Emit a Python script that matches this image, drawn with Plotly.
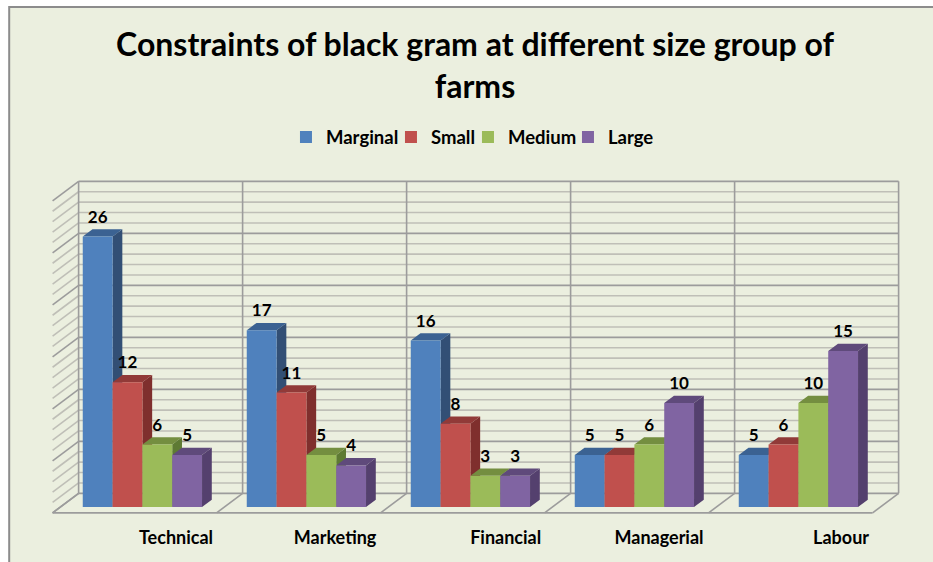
import plotly.graph_objects as go

categories = ["Technical", "Marketing", "Financial", "Managerial", "Labour"]
marginal = [26, 17, 16, 5, 5]
small = [12, 11, 8, 5, 6]
medium = [6, 5, 3, 6, 10]
large = [5, 4, 3, 10, 15]
label_nudge = [0.205, 0.175, 0.215, 0.15, 0.26]

series = [
    ("Marginal", marginal, "#4F81BD", "#3B6292", "#324F75"),
    ("Small", small, "#C0504D", "#913A38", "#7F2F2D"),
    ("Medium", medium, "#9BBB59", "#748E40", "#5E7A33"),
    ("Large", large, "#8064A2", "#5F4A7B", "#54406E"),
]
legend_widths = [60, 32, 55, 40]

# oblique projection of the Excel-style 3D frame, in axis units
BAR_W = 1 / 5.5
DX = 26 / 164
DY = 19.5 / 10.4
FRONT, BACK = 0.3, 0.675
VMAX = 30


def X(c, d):
    return c + (d - FRONT) * DX


def Y(v, d):
    return v + (d - FRONT) * DY


def poly(pts, fill, line=None, layer="below"):
    path = "M" + " L".join(f"{x:.4f},{y:.4f}" for x, y in pts) + " Z"
    return dict(type="path", xref="x", yref="y", path=path, fillcolor=fill,
                line=dict(width=0) if line is None else line, layer=layer)


def seg(p, q, color, width):
    return dict(type="line", xref="x", yref="y", x0=p[0], y0=p[1], x1=q[0], y1=q[1],
                line=dict(color=color, width=width), layer="below")


shapes = []
# chart area background with its thin frame (only left and top edges fall inside the picture)
BG = "#EBEFDF"
shapes.append(dict(type="rect", xref="paper", yref="paper", x0=-0.048, x1=1.2, y0=-0.3, y1=1.506,
                   fillcolor=BG, line=dict(color="#8C8C8C", width=2), layer="below"))

MAJOR, MINOR = "#9C9C9C", "#BFBFB7"
for v in range(0, VMAX + 1):
    col, w = (MAJOR, 1.6) if v % 5 == 0 else (MINOR, 1.6)
    shapes.append(seg((X(-0.5, 1), Y(v, 1)), (X(4.5, 1), Y(v, 1)), col, w))
    shapes.append(seg((X(-0.5, 0), Y(v, 0)), (X(-0.5, 1), Y(v, 1)), col, w))
for i in range(6):
    shapes.append(seg((X(i - 0.5, 1), Y(0, 1)), (X(i - 0.5, 1), Y(VMAX, 1)), MAJOR, 1.6))
    shapes.append(seg((X(i - 0.5, 0), Y(0, 0)), (X(i - 0.5, 1), Y(0, 1)), MAJOR, 1.6))
shapes.append(seg((X(-0.5, 0), Y(0, 0)), (X(4.5, 0), Y(0, 0)), MAJOR, 1.6))

# depth faces of each bar, painted left to right
for i in range(len(categories)):
    for j, (_, vals, _, top, side) in enumerate(series):
        x0 = i - 2 * BAR_W + j * BAR_W
        x1 = x0 + BAR_W
        v = vals[i]
        shapes.append(poly([(X(x1, FRONT), Y(0, FRONT)), (X(x1, BACK), Y(0, BACK)),
                            (X(x1, BACK), Y(v, BACK)), (X(x1, FRONT), Y(v, FRONT))], side))
        shapes.append(poly([(X(x0, FRONT), Y(v, FRONT)), (X(x1, FRONT), Y(v, FRONT)),
                            (X(x1, BACK), Y(v, BACK)), (X(x0, BACK), Y(v, BACK))], top))

fig = go.Figure()
xpos = list(range(len(categories)))
for (name, vals, front, _, _), lw in zip(series, legend_widths):
    fig.add_trace(go.Bar(name=name, x=xpos, y=vals, marker=dict(color=front, line=dict(width=0)),
                         legendwidth=lw, hoverinfo="x+y"))

lab_x, lab_y, lab_t = [], [], []
for j, (_, vals, _, _, _) in enumerate(series):
    for i, v in enumerate(vals):
        lab_x.append(i - 2 * BAR_W + (j + 0.5) * BAR_W)
        lab_y.append(v + 1.75)
        lab_t.append(str(v))
fig.add_trace(go.Scatter(x=lab_x, y=lab_y, text=lab_t, mode="text", showlegend=False,
                         textfont=dict(family="Lato", size=17, color="#000000", weight="bold"),
                         textposition="middle center", hoverinfo="skip", cliponaxis=False))

# plot area spans pixels x 50..900 and y 178..516
unit_x, unit_y = 164.0, 10.4
fig.update_layout(
    width=933, height=562, autosize=False,
    margin=dict(l=50, r=33, t=178, b=46, pad=0),
    paper_bgcolor="#FFFFFF", plot_bgcolor="rgba(0,0,0,0)",
    barmode="group", bargap=1 - 4 * BAR_W, bargroupgap=0,
    shapes=shapes,
    title=dict(text="Constraints of black gram at different size group of<br>farms",
               font=dict(family="Lato", size=32, color="#000000", weight="bold"),
               x=0.5, xref="paper", xanchor="center", y=0.9, yanchor="middle"),
    legend=dict(orientation="h", x=0.4935, xanchor="center", y=1.12, yanchor="middle",
                font=dict(family="Lato", size=18.5, color="#000000", weight="bold"),
                bgcolor="rgba(0,0,0,0)", itemclick=False, itemdoubleclick=False),
    xaxis=dict(range=[(50 - 142.4) / unit_x, (900 - 142.4) / unit_x], showgrid=False, zeroline=False,
               showline=False, ticks="", tickmode="array",
               tickvals=[i + n for i, n in enumerate(label_nudge)], ticktext=categories,
               tickfont=dict(family="Lato", size=18, color="#000000", weight="bold"),
               ticklabelstandoff=9),
    yaxis=dict(range=[(507 - 516) / unit_y, (507 - 178) / unit_y], showgrid=False, zeroline=False,
               showline=False, showticklabels=False, ticks=""),
    showlegend=True,
)

fig.write_html("out.html", config={"displayModeBar": False},
               post_script="document.body.style.margin='0';")
